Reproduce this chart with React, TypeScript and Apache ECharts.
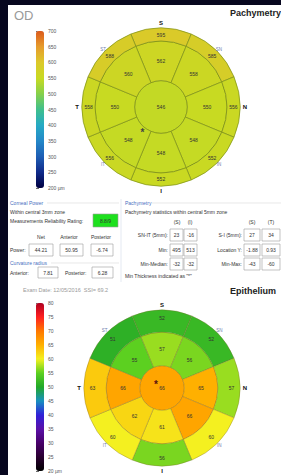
import React, { useEffect, useRef } from 'react';
import * as echarts from 'echarts';

// ---------- data ----------
const sectorNames = ['S', 'SN', 'N', 'IN', 'I', 'IT', 'T', 'ST'];
const pachyRingsMm = [0, 1, 2.5, 3];
const epiRingsMm = [0, 1, 2.5, 3.5];

const pachyCenter = [546];
const pachyMid = [562, 558, 550, 548, 548, 548, 550, 560];
const pachyOuter = [595, 585, 556, 552, 552, 556, 558, 588];

const epiCenter = [66];
const epiMid = [57, 56, 65, 66, 61, 62, 66, 55];
const epiOuter = [52, 52, 57, 60, 56, 60, 63, 51];

const pachyScale = [200, 700, 50];
const epiScale = [20, 80, 5];
const pachyScaleColors = ['#000040', '#102a8a', '#1e5eb4', '#2488c8', '#26aac4', '#40bf8c', '#86d04a', '#c8da22', '#dcc82a', '#e69c2c', '#dc5a1c'];
const epiScaleColors = ['#000000', '#2a0030', '#48006a', '#5a10a8', '#3020d8', '#1890c0', '#22a828', '#5cd020', '#f4f020', '#ffb000', '#ff7800', '#ff2020', '#b00020'];

const pachyMinLoc = [[1.2, 216]];
const epiMarkLoc = [[0.3, 297]];

const powerHeaders = ['Net', 'Anterior', 'Posterior'];
const powerValues = ['44.21', '50.95', '-6.74'];
const radiusValues = ['7.81', '6.28'];
const reliability = '8.8/9';
const statHeaders = ['(S)', '(I)', '(S)', '(T)'];
const statLeftLabels = ['SN-IT (5mm):', 'Min:', 'Min-Median:'];
const statLeftValues = [['23', '-16'], ['495', '513'], ['-32', '-32']];
const statRightLabels = ['S-I (5mm):', 'Location Y:', 'Min-Max:'];
const statRightValues = [['27', '34'], ['-1.88', '0.93'], ['-43', '-60']];

// ---------- helpers ----------
const FONT = 'Liberation Sans, Arial, sans-serif';

function zones(center: number[], mid: number[], outer: number[]) {
  return [
    [center[0], 0, 0],
    ...mid.map((v, i) => [v, 1, i]),
    ...outer.map((v, i) => [v, 2, i]),
  ];
}

function zoneRenderer(rings: number[], stroke: string, lw: number, labelPos: number[]) {
  return (params: any, api: any) => {
    const v = api.value(0);
    const ring = api.value(1);
    const s = api.value(2);
    const c = api.coord([0, 0]);
    const rad = (mm: number) => {
      const p = api.coord([mm, 0]);
      return Math.hypot(p[0] - c[0], p[1] - c[1]);
    };
    const ang = (deg: number) => {
      const p = api.coord([rings[rings.length - 1], deg]);
      return Math.atan2(p[1] - c[1], p[0] - c[0]);
    };
    const r0 = rad(rings[ring]);
    const r1 = rad(rings[ring + 1]);
    let start = 0;
    let end = Math.PI * 2;
    let tx = c[0];
    let ty = c[1];
    if (ring > 0) {
      start = ang(s * 45 - 22.5);
      end = ang(s * 45 + 22.5);
      while (end <= start) end += Math.PI * 2;
      const f = labelPos[ring];
      const tp = api.coord([rings[ring] + f * (rings[ring + 1] - rings[ring]), s * 45]);
      tx = tp[0];
      ty = tp[1];
    }
    return {
      type: 'group',
      children: [
        {
          type: 'sector',
          shape: { cx: c[0], cy: c[1], r0, r: r1, startAngle: start, endAngle: end, clockwise: true },
          style: { fill: api.visual('color'), stroke, lineWidth: lw },
        },
        {
          type: 'text',
          x: tx,
          y: ty,
          style: { text: String(v), fontSize: 5, fontFamily: FONT, fill: '#333', align: 'center', verticalAlign: 'middle' },
        },
      ],
    };
  };
}

function dirRenderer(maxMm: number) {
  return (params: any, api: any) => {
    const a = api.value(0);
    const i = params.dataIndex;
    const major = i % 2 === 0;
    const c = api.coord([0, 0]);
    const e = api.coord([maxMm, a]);
    const dx = e[0] - c[0];
    const dy = e[1] - c[1];
    const len = Math.hypot(dx, dy);
    const off = major ? 5 : 3;
    return {
      type: 'text',
      x: e[0] + (dx / len) * off,
      y: e[1] + (dy / len) * off,
      style: {
        text: sectorNames[i],
        fontSize: major ? 6 : 4.5,
        fontWeight: major ? 'bold' : 'normal',
        fontFamily: FONT,
        fill: major ? '#111' : '#7080b0',
        align: 'center',
        verticalAlign: 'middle',
      },
    };
  };
}

function markRenderer(color: string) {
  return (params: any, api: any) => {
    const p = api.coord([api.value(0), api.value(1)]);
    return {
      type: 'text',
      x: p[0],
      y: p[1],
      style: { text: '*', fontSize: 10, fontWeight: 'bold', fontFamily: FONT, fill: color, align: 'center', verticalAlign: 'middle' },
    };
  };
}

function txt(x: number, y: number, text: string, o: any = {}) {
  return {
    type: 'text',
    x,
    y,
    style: {
      text,
      fontSize: o.size ?? 5,
      fontWeight: o.weight ?? 'normal',
      fontFamily: FONT,
      fill: o.color ?? '#333',
      align: o.align ?? 'left',
      verticalAlign: 'middle',
    },
    z: 10,
  };
}

function box(x: number, y: number, w: number, h: number, text: string, fill = '#fff') {
  return [
    { type: 'rect', shape: { x, y, width: w, height: h }, style: { fill, stroke: '#9a9a9a', lineWidth: 0.6 }, z: 9 },
    txt(x + w / 2, y + h / 2, text, { align: 'center' }),
  ];
}

function hline(x1: number, x2: number, y: number, color = '#d8d8d8') {
  return { type: 'line', shape: { x1, y1: y, x2, y2: y }, style: { stroke: color, lineWidth: 0.6 }, z: 8 };
}

// ---------- graphic (page frame & text panel) ----------
const BLUE = '#4a6fc0';
const graphics: any[] = [
  { type: 'rect', shape: { x: 0, y: 0, width: 8, height: 475 }, style: { fill: '#07071f' }, z: 1 },
  { type: 'rect', shape: { x: 0, y: 0, width: 281, height: 5 }, style: { fill: '#07071f' }, z: 1 },
  txt(14, 15.5, 'OD', { size: 13, color: '#9a9a9a' }),
  txt(230, 13, 'Pachymetry', { size: 9, weight: 'bold', color: '#222' }),
  txt(23, 290, 'Exam Date: 12/05/2016  SSI= 69.2', { size: 5.5, color: '#999' }),
  txt(230, 291, 'Epithelium', { size: 9, weight: 'bold', color: '#222' }),
  // left panel
  txt(10, 203, 'Corneal Power', { color: BLUE }),
  hline(47, 119, 203),
  txt(10, 212, 'Within central 3mm zone'),
  txt(10, 221, 'Measurements Reliability Rating:'),
  ...box(93, 214, 25, 13, reliability, '#1ee01e'),
  ...powerHeaders.map((h, i) => txt([41, 69, 101][i], 237, h, { align: 'center' })),
  txt(10, 250, 'Power:'),
  ...powerValues.flatMap((v, i) => box([29, 60, 91][i], 244, [24, 23, 22][i], 12, v)),
  txt(10, 263, 'Curvature radius', { color: BLUE }),
  hline(51, 119, 263),
  txt(10, 273, 'Anterior:'),
  ...box(38, 267, 20, 11, radiusValues[0]),
  txt(65, 273, 'Posterior:'),
  ...box(92, 267, 21, 11, radiusValues[1]),
  // separator
  { type: 'line', shape: { x1: 121, y1: 199, x2: 121, y2: 282 }, style: { stroke: '#dde3ef', lineWidth: 0.8 }, z: 8 },
  // right panel
  txt(125, 203, 'Pachymetry', { color: BLUE }),
  hline(152, 281, 203),
  txt(125, 212, 'Pachymetry statistics within central 5mm zone'),
  ...statHeaders.map((h, i) => txt([177, 190, 252, 271][i], 222, h, { align: 'center' })),
  ...statLeftLabels.map((l, i) => txt(168, [235, 250, 264][i], l, { align: 'right' })),
  ...statRightLabels.map((l, i) => txt(242, [235, 250, 264][i], l, { align: 'right' })),
  ...statLeftValues.flatMap((pair, i) => [
    ...box(170, [229, 244, 258][i], 13, 12, pair[0]),
    ...box(184, [229, 244, 258][i], 13, 12, pair[1]),
  ]),
  ...statRightValues.flatMap((pair, i) => [
    ...box(244, [229, 244, 258][i], 16, 12, pair[0]),
    ...box(262, [229, 244, 258][i], 18, 12, pair[1]),
  ]),
  txt(125, 276, 'Min Thickness indicated as "*"'),
];

const axisCommon = (gridIndex: number, scale: number[]) => ({
  gridIndex,
  type: 'value',
  min: scale[0],
  max: scale[1],
  interval: scale[2],
  position: 'right',
  axisLine: { show: false },
  axisTick: { show: true, length: 3, lineStyle: { color: '#444', width: 0.8 } },
  splitLine: { show: false },
  axisLabel: {
    fontSize: 5,
    color: '#555',
    margin: 4,
    fontFamily: FONT,
    formatter: (v: number) => (v === scale[0] ? v + ' µm' : String(v)),
  },
});

const option: any = {
  animation: false,
  backgroundColor: '#ffffff',
  textStyle: { fontFamily: FONT },
  graphic: { elements: graphics },
  polar: [
    { center: [161, 107], radius: 79 },
    { center: [162, 388], radius: 78 },
  ],
  angleAxis: [
    { polarIndex: 0, type: 'value', min: 0, max: 360, startAngle: 90, clockwise: true, show: false },
    { polarIndex: 1, type: 'value', min: 0, max: 360, startAngle: 90, clockwise: true, show: false },
  ],
  radiusAxis: [
    { polarIndex: 0, type: 'value', min: 0, max: pachyRingsMm[3], show: false },
    { polarIndex: 1, type: 'value', min: 0, max: epiRingsMm[3], show: false },
  ],
  grid: [
    { left: 36, top: 31, width: 8, height: 157, outerBoundsMode: 'none' },
    { left: 36, top: 303, width: 8, height: 168, outerBoundsMode: 'none' },
  ],
  xAxis: [
    { gridIndex: 0, type: 'value', show: false },
    { gridIndex: 1, type: 'value', show: false },
  ],
  yAxis: [axisCommon(0, pachyScale), axisCommon(1, epiScale)],
  visualMap: [
    {
      type: 'continuous', seriesIndex: 0, dimension: 0, min: pachyScale[0], max: pachyScale[1],
      inRange: { color: pachyScaleColors }, left: 36, top: 31, itemWidth: 8, itemHeight: 157,
      padding: 0, calculable: false, text: null, hoverLink: false,
    },
    {
      type: 'continuous', seriesIndex: 1, dimension: 0, min: epiScale[0], max: epiScale[1],
      inRange: { color: epiScaleColors }, left: 36, top: 303, itemWidth: 8, itemHeight: 168,
      padding: 0, calculable: false, text: null, hoverLink: false,
    },
  ],
  series: [
    {
      type: 'custom', coordinateSystem: 'polar', polarIndex: 0,
      data: zones(pachyCenter, pachyMid, pachyOuter),
      renderItem: zoneRenderer(pachyRingsMm, '#7d8f18', 0.7, [0, 0.5, 0.5]),
    },
    {
      type: 'custom', coordinateSystem: 'polar', polarIndex: 1,
      data: zones(epiCenter, epiMid, epiOuter),
      renderItem: zoneRenderer(epiRingsMm, 'rgba(120,100,40,0.55)', 0.6, [0, 0.5, 0.62]),
    },
    {
      type: 'custom', coordinateSystem: 'polar', polarIndex: 0,
      data: sectorNames.map((_, i) => [i * 45]),
      renderItem: dirRenderer(pachyRingsMm[3]),
    },
    {
      type: 'custom', coordinateSystem: 'polar', polarIndex: 1,
      data: sectorNames.map((_, i) => [i * 45]),
      renderItem: dirRenderer(epiRingsMm[3]),
    },
    {
      type: 'custom', coordinateSystem: 'polar', polarIndex: 0,
      data: pachyMinLoc, renderItem: markRenderer('#444'), z: 5,
    },
    {
      type: 'custom', coordinateSystem: 'polar', polarIndex: 1,
      data: epiMarkLoc, renderItem: markRenderer('#5a1010'), z: 5,
    },
  ],
};

export default function App() {
  const ref = useRef<HTMLDivElement>(null);
  useEffect(() => {
    const chart = echarts.init(ref.current!, null, { renderer: 'svg' });
    chart.setOption(option);
    return () => chart.dispose();
  }, []);
  return <div ref={ref} style={{ position: 'absolute', left: 0, top: 0, width: 281, height: 475 }} />;
}
